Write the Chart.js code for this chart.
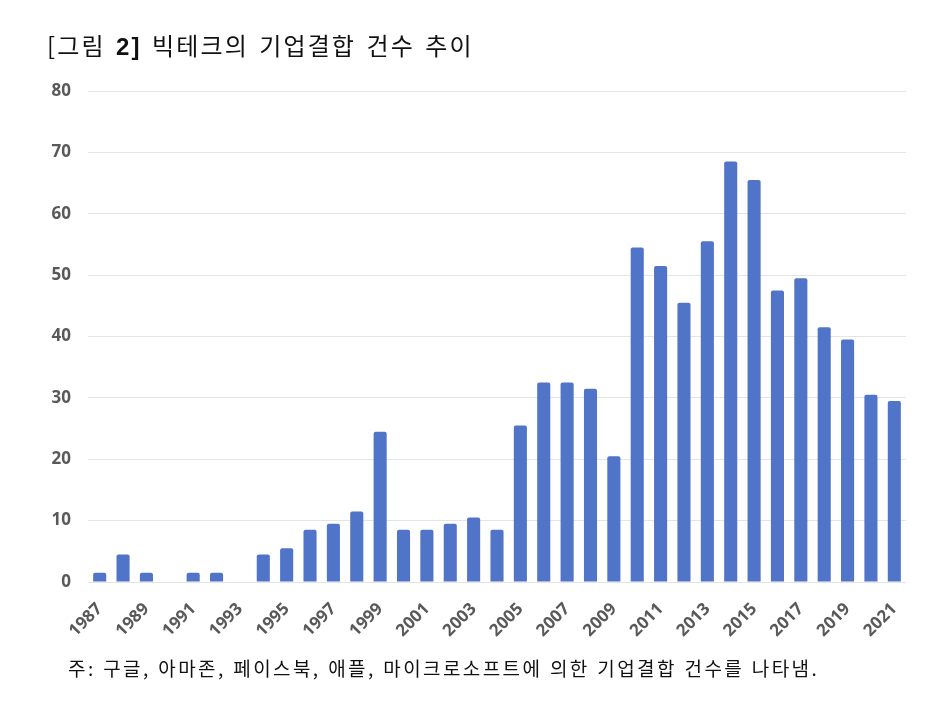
<!DOCTYPE html>
<html>
<head>
<meta charset="utf-8">
<script src="https://cdn.jsdelivr.net/npm/chart.js@4.4.1/dist/chart.umd.min.js"></script>
<style>
  html, body { margin: 0; padding: 0; background: #fff; }
  #wrap { position: relative; width: 942px; height: 707px; }
  #title { position: absolute; left: 47px; top: 27px; font: 24px "Noto Sans CJK KR", sans-serif; color: #111; letter-spacing: 2.1px; word-spacing: 3px; }
  #title b { font-family: "Liberation Sans", sans-serif; }
  #note { position: absolute; left: 68px; top: 654px; font: 19px "Noto Sans CJK KR", sans-serif; color: #111; letter-spacing: 2.4px; word-spacing: 1px; }
  canvas { position: absolute; left: 0; top: 0; }
</style>
</head>
<body>
<div id="wrap">
  <canvas id="myChart" width="942" height="707"></canvas>
  <div id="title">[그림 <b>2]</b> 빅테크의 기업결합 건수 추이</div>
  <div id="note">주: 구글, 아마존, 페이스북, 애플, 마이크로소프트에 의한 기업결합 건수를 나타냄.</div>
</div>
<script>
"use strict";

var years = ['1987','1988','1989','1990','1991','1992','1993','1994','1995','1996',
             '1997','1998','1999','2000','2001','2002','2003','2004','2005','2006',
             '2007','2008','2009','2010','2011','2012','2013','2014','2015','2016',
             '2017','2018','2019','2020','2021'];

var deals = [1.5, 4.5, 1.5, 0, 1.5, 1.5, 0, 4.5, 5.5, 8.5,
             9.5, 11.5, 24.5, 8.5, 8.5, 9.5, 10.5, 8.5, 25.5, 32.5,
             32.5, 31.5, 20.5, 54.5, 51.5, 45.5, 55.5, 68.5, 65.5, 47.5,
             49.5, 41.5, 39.5, 30.5, 29.5];

var yTicks = [0, 10, 20, 30, 40, 50, 60, 70, 80];

new Chart(document.getElementById("myChart"), {
    type: 'bar',
    data: {
        labels: years,
        datasets: [{
            label: "기업결합 건수",
            backgroundColor: '#4f74c8',
            data: deals,
            categoryPercentage: 1,
            barPercentage: 0.56,
            borderRadius: { topLeft: 2, topRight: 2 },
            borderSkipped: 'bottom'
        }]
    },
    options: {
        responsive: false,
        animation: false,
        layout: { padding: { top: 91, right: 36, bottom: 0, left: 0 } },
        plugins: {
            legend: { display: false },
            tooltip: { enabled: false }
        },
        scales: {
            x: {
                grid: { display: false },
                border: { display: false },
                ticks: {
                    autoSkip: false,
                    minRotation: 45,
                    maxRotation: 45,
                    color: '#595959',
                    font: { family: 'Open Sans', size: 17, weight: 'bold' },
                    padding: 9,
                    callback: function (val, i) {
                        return i % 2 === 0 ? years[i] : '';
                    }
                },
                afterFit: function (scale) { scale.height = 125; }
            },
            y: {
                min: 0,
                max: 80,
                afterBuildTicks: function (scale) {
                    scale.ticks = yTicks.map(function (v) { return { value: v }; });
                },
                grid: { color: '#e4e4e4', drawTicks: false, lineWidth: 1 },
                border: { display: false },
                ticks: {
                    color: '#595959',
                    font: { family: 'Open Sans', size: 17, weight: 'bold' },
                    padding: 17
                },
                afterFit: function (scale) { scale.width = 88; }
            }
        }
    }
});
</script>
</body>
</html>
